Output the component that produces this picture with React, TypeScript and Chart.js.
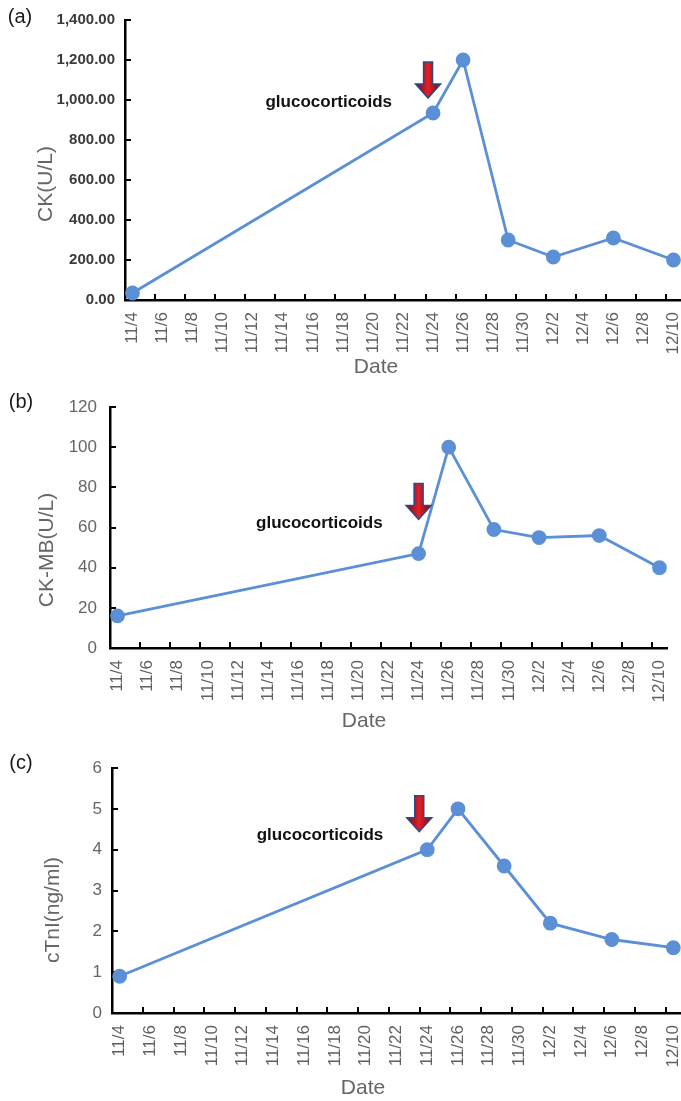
import React, { useEffect, useRef } from "react";
import { Chart, registerables } from "chart.js";

Chart.register(...registerables);

// ---------- data ----------
const dates = ["11/4", "11/24", "11/26", "11/29", "12/2", "12/6", "12/10"];
const ckValues = [35, 935, 1200, 300, 215, 310, 200];
const ckmbValues = [16, 47, 100, 59, 55, 56, 40];
const ctniValues = [0.9, 4.0, 5.0, 3.6, 2.2, 1.8, 1.6];
const tickLabels = [
  "11/4", "11/6", "11/8", "11/10", "11/12", "11/14", "11/16", "11/18", "11/20",
  "11/22", "11/24", "11/26", "11/28", "11/30", "12/2", "12/4", "12/6", "12/8", "12/10",
];
const treatmentDate = "11/24";
const treatmentLabel = "glucocorticoids";
const xTitle = "Date";

// ---------- helpers ----------
const BASE = new Date(2000, 10, 4).getTime();
function dayIndex(s: string): number {
  const [m, d] = s.split("/").map(Number);
  return Math.round((new Date(2000, m - 1, d).getTime() - BASE) / 86400000);
}
const totalDays = dayIndex(tickLabels[tickLabels.length - 1]) + 1;
function labelFor(v: number): string {
  const l = tickLabels.find((t) => dayIndex(t) === v);
  return l ?? "";
}

const BLUE = "#5B8FD6";
const SANS = "'Liberation Sans', Arial, sans-serif";
const PAGE_W = 681;
const CANVAS_W = 705; // canvas runs past the page edge (cropped like the reference)

type Cfg = {
  top: number;
  height: number;
  left: number;
  right: number;
  chartTop: number;
  chartBottom: number;
  values: number[];
  yMax: number;
  yStep: number;
  yFormat: (v: number) => string;
  yFont: any;
  yColor: string;
  yPad: number;
  yTitle: string;
  yTitlePos: [number, number];
  xTitlePos: [number, number];
  panelLabel: string;
  panelLabelPos: [number, number];
  arrowTip: number;
  arrowDx: number;
  labelOffset: number;
};

const panels: Cfg[] = [
  {
    top: 0, height: 380, left: 125, right: 681, chartTop: 20, chartBottom: 300,
    values: ckValues, yMax: 1400, yStep: 200,
    yFormat: (v) => v.toLocaleString("en-US", { minimumFractionDigits: 2, maximumFractionDigits: 2 }),
    yFont: { family: SANS, size: 15, weight: "bold" }, yColor: "#3a3a3a", yPad: 2,
    yTitle: "CK(U/L)", yTitlePos: [46, 184], xTitlePos: [376, 367],
    panelLabel: "(a)", panelLabelPos: [20, 17],
    arrowTip: 1010, arrowDx: -5, labelOffset: 7.5,
  },
  {
    top: 380, height: 360, left: 110, right: 667, chartTop: 27, chartBottom: 268,
    values: ckmbValues, yMax: 120, yStep: 20,
    yFormat: (v) => String(v),
    yFont: { family: SANS, size: 17 }, yColor: "#666666", yPad: 5,
    yTitle: "CK-MB(U/L)", yTitlePos: [47, 170], xTitlePos: [364, 341],
    panelLabel: "(b)", panelLabelPos: [21, 22],
    arrowTip: 64, arrowDx: 0, labelOffset: 7.5,
  },
  {
    top: 740, height: 361, left: 112, right: 681, chartTop: 28, chartBottom: 273,
    values: ctniValues, yMax: 6, yStep: 1,
    yFormat: (v) => String(v),
    yFont: { family: SANS, size: 17 }, yColor: "#666666", yPad: 2,
    yTitle: "cTnI(ng/ml)", yTitlePos: [53, 170], xTitlePos: [363, 348],
    panelLabel: "(c)", panelLabelPos: [21, 23],
    arrowTip: 4.44, arrowDx: -8, labelOffset: 7.7,
  },
];

function makeDecor(cfg: Cfg) {
  return {
    id: "decor",
    beforeDatasetsDraw(chart: any) {
      const ctx = chart.ctx;
      const xs = chart.scales.x;
      const ys = chart.scales.y;
      const a = chart.chartArea;
      ctx.save();
      ctx.strokeStyle = "#000";
      ctx.lineWidth = 2;
      xs.ticks.forEach((t: any) => {
        const px = Math.round(xs.getPixelForValue(t.value));
        ctx.beginPath();
        ctx.moveTo(px, a.bottom);
        ctx.lineTo(px, a.bottom - 6);
        ctx.stroke();
      });
      ys.ticks.forEach((t: any) => {
        const py = Math.round(ys.getPixelForValue(t.value));
        ctx.beginPath();
        ctx.moveTo(a.left, py);
        ctx.lineTo(a.left + 6, py);
        ctx.stroke();
      });
      ctx.restore();
    },
    afterDraw(chart: any) {
      const ctx = chart.ctx;
      const xs = chart.scales.x;
      const ys = chart.scales.y;
      ctx.save();
      // y title
      ctx.fillStyle = "#666666";
      ctx.font = `21px ${SANS}`;
      ctx.textAlign = "center";
      ctx.textBaseline = "middle";
      ctx.save();
      ctx.translate(cfg.yTitlePos[0], cfg.yTitlePos[1]);
      ctx.rotate(-Math.PI / 2);
      ctx.fillText(cfg.yTitle, 0, 0);
      ctx.restore();
      // x title
      ctx.fillText(xTitle, cfg.xTitlePos[0], cfg.xTitlePos[1]);
      // panel label
      ctx.fillStyle = "#1a1a1a";
      ctx.font = `20px ${SANS}`;
      ctx.fillText(cfg.panelLabel, cfg.panelLabelPos[0], cfg.panelLabelPos[1]);
      // arrow
      const ax = xs.getPixelForValue(dayIndex(treatmentDate) + 0.5) + cfg.arrowDx;
      const tip = ys.getPixelForValue(cfg.arrowTip);
      const len = 36, shaft = 4.5, headW = 12.5, headH = 14;
      ctx.beginPath();
      ctx.moveTo(ax - shaft, tip - len);
      ctx.lineTo(ax + shaft, tip - len);
      ctx.lineTo(ax + shaft, tip - headH);
      ctx.lineTo(ax + headW, tip - headH);
      ctx.lineTo(ax, tip);
      ctx.lineTo(ax - headW, tip - headH);
      ctx.lineTo(ax - shaft, tip - headH);
      ctx.closePath();
      const g = ctx.createLinearGradient(ax - headW, 0, ax + headW, 0);
      g.addColorStop(0, "#7a0a12");
      g.addColorStop(0.5, "#e0202a");
      g.addColorStop(1, "#7a0a12");
      ctx.fillStyle = g;
      ctx.fill();
      ctx.strokeStyle = "#2d4a86";
      ctx.lineWidth = 1.5;
      ctx.stroke();
      // annotation text
      ctx.fillStyle = "#111111";
      ctx.font = `bold 17px ${SANS}`;
      ctx.textAlign = "right";
      ctx.textBaseline = "middle";
      ctx.fillText(treatmentLabel, ax - 36, tip + 4);
      ctx.restore();
    },
  };
}

function Panel({ cfg }: { cfg: Cfg }) {
  const ref = useRef<HTMLCanvasElement>(null);
  useEffect(() => {
    const chart = new Chart(ref.current as HTMLCanvasElement, {
      type: "line",
      data: {
        datasets: [
          {
            data: dates.map((d, i) => ({ x: dayIndex(d) + 0.5, y: cfg.values[i] })),
            borderColor: BLUE,
            backgroundColor: BLUE,
            pointBackgroundColor: BLUE,
            pointBorderColor: BLUE,
            pointRadius: 6,
            borderWidth: 2.8,
            tension: 0,
            clip: false,
          } as any,
        ],
      },
      options: {
        responsive: false,
        animation: false,
        devicePixelRatio: 1,
        layout: { padding: { left: 0, right: CANVAS_W - cfg.right, top: cfg.chartTop, bottom: 0 } },
        plugins: { legend: { display: false }, tooltip: { enabled: false } },
        scales: {
          x: {
            type: "linear",
            min: 0,
            max: totalDays,
            afterBuildTicks: (s: any) => {
              s.ticks = tickLabels.map((l) => ({ value: dayIndex(l) }));
            },
            afterFit: (s: any) => {
              s.height = cfg.height - cfg.chartBottom;
            },
            grid: { display: false },
            border: { display: true, color: "#000", width: 2.5 },
            ticks: {
              autoSkip: false,
              minRotation: 90,
              maxRotation: 90,
              labelOffset: cfg.labelOffset,
              padding: 4,
              color: "#5f5f5f",
              font: { family: SANS, size: 17 },
              callback: (v: any) => labelFor(Number(v)),
            },
          },
          y: {
            type: "linear",
            min: 0,
            max: cfg.yMax,
            afterFit: (s: any) => {
              s.width = cfg.left;
            },
            grid: { display: false },
            border: { display: true, color: "#000", width: 2.5 },
            ticks: {
              stepSize: cfg.yStep,
              padding: cfg.yPad,
              color: cfg.yColor,
              font: cfg.yFont,
              callback: (v: any) => cfg.yFormat(Number(v)),
            },
          },
        },
      } as any,
      plugins: [makeDecor(cfg)],
    });
    return () => chart.destroy();
  }, [cfg]);
  return (
    <div style={{ position: "absolute", left: 0, top: cfg.top, width: PAGE_W, height: cfg.height, overflow: "hidden" }}>
      <canvas ref={ref} width={CANVAS_W} height={cfg.height} style={{ display: "block", width: CANVAS_W, height: cfg.height }} />
    </div>
  );
}

export default function App() {
  useEffect(() => {
    document.body.style.margin = "0";
    document.body.style.overflow = "hidden";
    document.body.style.background = "#fff";
  }, []);
  return (
    <div style={{ position: "relative", width: PAGE_W, height: 1101, overflow: "hidden", background: "#fff" }}>
      {panels.map((p, i) => (
        <Panel key={i} cfg={p} />
      ))}
    </div>
  );
}
